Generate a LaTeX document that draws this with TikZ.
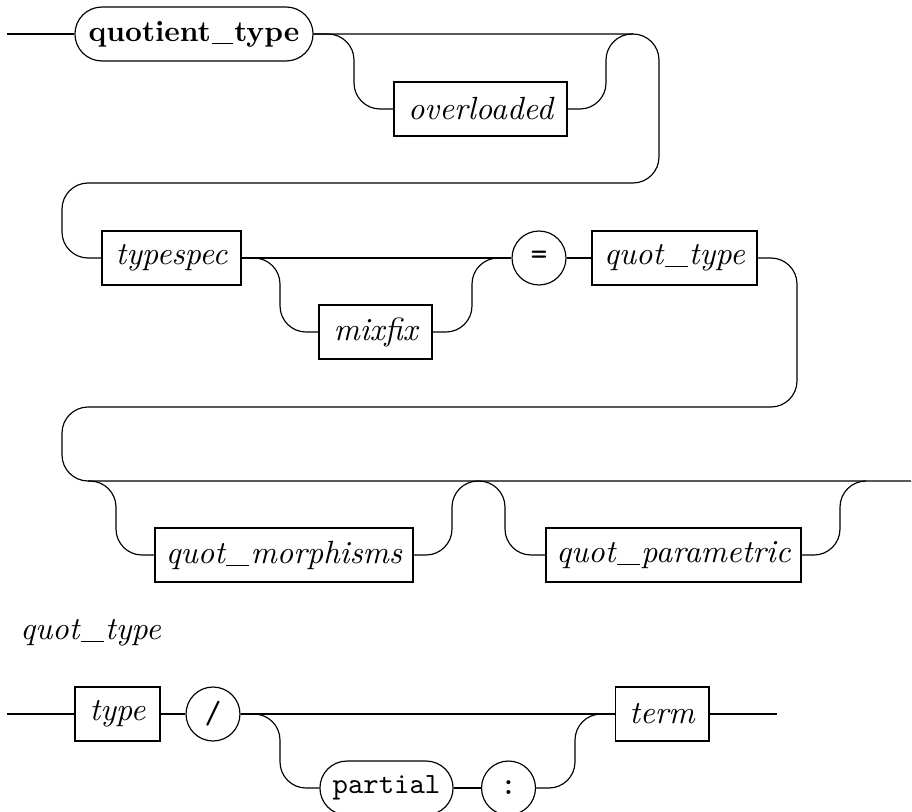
\documentclass[tikz,border=0pt]{standalone}
\usepackage{tikz}
\usetikzlibrary{shapes.misc}
\newcommand{\railsize}{\fontsize{10.95}{13.6}\selectfont}
\newcommand{\usc}{\kern0.04em\rule[-0.9pt]{0.72em}{0.35pt}\kern0.04em}

\begin{document}
\begin{tikzpicture}[
  x=0.341pt, y=-0.341pt,
  rail/.style={draw, line width=0.4pt, rounded corners=8.9pt},
  nonterm/.style={draw, rectangle, minimum height=18.4pt, inner sep=0pt, font=\railsize\itshape},
  keyword/.style={draw, rounded rectangle, minimum height=18.4pt, inner sep=0pt, font=\fontsize{10}{12}\selectfont\bfseries},
  delim/.style={draw, circle, minimum size=18.4pt, inner sep=0pt, font=\railsize\ttfamily}
]
\useasboundingbox (0,0) rectangle (912,811);

% quotient_type
\node[keyword, minimum width=81.2pt] (qtype) at (194,34) {quotient\usc type};
\node[nonterm, minimum width=59pt] (overloaded) at (480.5,109) {overloaded};
\node[nonterm, minimum width=47.4pt] (typespec) at (171.5,258) {typespec};
\node[nonterm, minimum width=38.5pt] (mixfix) at (375.5,332) {mixfix};
\node[delim] (eq) at (539,258) {=};
\node[nonterm, minimum width=56.3pt] (qt) at (674.5,258) {quot\usc type};
\node[nonterm, minimum width=88pt] (morph) at (284,555) {quot\usc morphisms};
\node[nonterm, minimum width=87pt] (param) at (673.5,555) {quot\usc parametric};

\coordinate (start) at (7,34);
\coordinate (j1) at (633,34);
\coordinate (j2) at (498,258);
\coordinate (s3) at (88,481);
\coordinate (j3) at (478,481);
\coordinate (j4) at (866,481);
\coordinate (stop) at (911,481);

\draw[rail] (start) -- (qtype.west);
\draw[rail] (qtype.east) -- (659,34) -- (659,183) -- (62,183) -- (62,258) -- (typespec.west);
\draw[rail] (qtype.east) -- (354,34) -- (354,109) -- (overloaded.west);
\draw[rail] (overloaded.east) -- (606,109) -- (606,34) -- (j1);
\draw[rail] (typespec.east) -- (eq.west);
\draw[rail] (typespec.east) -- (280,258) -- (280,332) -- (mixfix.west);
\draw[rail] (mixfix.east) -- (472,332) -- (472,258) -- (j2);
\draw[rail] (eq.east) -- (qt.west);
\draw[rail] (qt.east) -- (797,258) -- (797,407) -- (62,407) -- (62,481) -- (stop);
\draw[rail] (s3) -- (116,481) -- (116,555) -- (morph.west);
\draw[rail] (morph.east) -- (452,555) -- (452,481) -- (j3);
\draw[rail] (j3) -- (505,481) -- (505,555) -- (param.west);
\draw[rail] (param.east) -- (840,555) -- (840,481) -- (j4);

% quot_type
\node[anchor=base west, font=\railsize\itshape] (lbl) at (10,639) {quot\usc type};
\node[nonterm, minimum width=29pt] (type) at (117.5,714) {type};
\node[delim] (slash) at (213,714) {/};
\node[keyword, minimum width=45.4pt, font=\fontsize{10}{12}\selectfont\ttfamily] (partial) at (386.5,788) {partial};
\node[delim] (colon) at (508.5,788) {:};
\node[nonterm, minimum width=32pt] (term) at (662,714) {term};

\coordinate (start2) at (7,714);
\coordinate (j5) at (601,714);
\coordinate (stop2) at (777,714);

\draw[rail] (start2) -- (type.west);
\draw[rail] (type.east) -- (slash.west);
\draw[rail] (slash.east) -- (term.west);
\draw[rail] (slash.east) -- (280,714) -- (280,788) -- (partial.west);
\draw[rail] (partial.east) -- (colon.west);
\draw[rail] (colon.east) -- (575,788) -- (575,714) -- (j5);
\draw[rail] (term.east) -- (stop2);
\end{tikzpicture}
\end{document}
